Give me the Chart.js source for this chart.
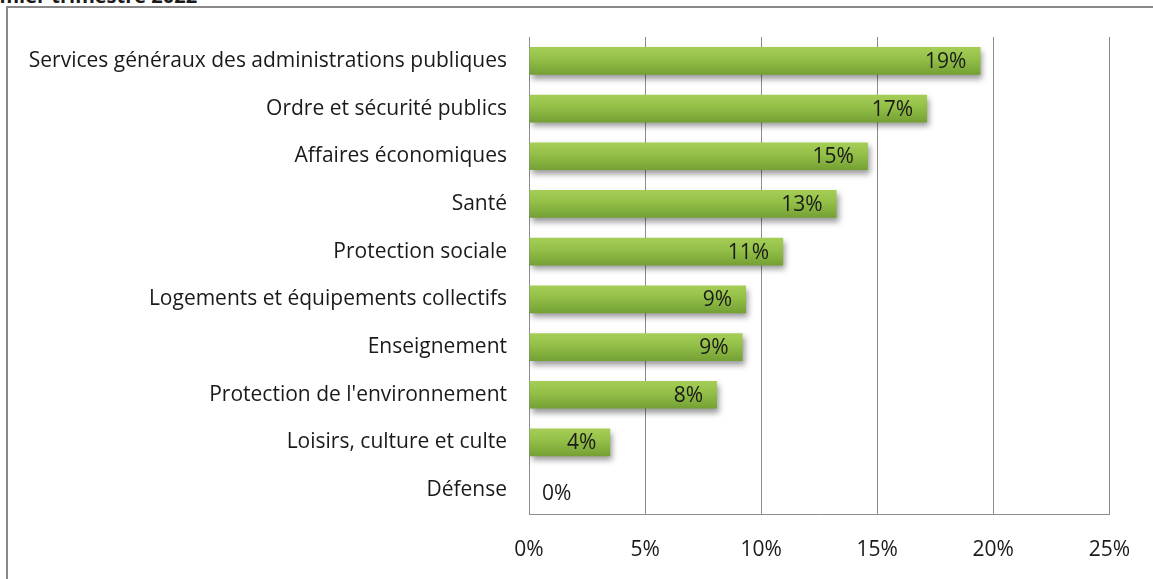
<!DOCTYPE html>
<html>
<head>
<meta charset="utf-8">
<script src="https://cdn.jsdelivr.net/npm/chart.js@4"></script>
<style>
  html, body { margin:0; padding:0; background:#fff; width:1153px; height:579px; overflow:hidden; }
  #title { position:absolute; left:-34px; top:-14px; font:bold 20px 'Open Sans', sans-serif; line-height:19px; color:#1a1a1a; white-space:nowrap; }
  #frame { position:absolute; left:6px; top:6px; width:1300px; height:800px; border:2px solid #8a8a8a; box-sizing:border-box; }
  #wrap { position:absolute; left:0; top:0; width:1153px; height:579px; }
</style>
</head>
<body>
<div id="title">Premier trimestre 2022</div>
<div id="frame"></div>
<div id="wrap"><canvas id="c" width="1153" height="579"></canvas></div>
<script>
const categories = [
  "Services généraux des administrations publiques",
  "Ordre et sécurité publics",
  "Affaires économiques",
  "Santé",
  "Protection sociale",
  "Logements et équipements collectifs",
  "Enseignement",
  "Protection de l'environnement",
  "Loisirs, culture et culte",
  "Défense"
];
const values = [19.45, 17.15, 14.6, 13.25, 10.95, 9.35, 9.2, 8.1, 3.5, 0];
const xTicks = [0, 5, 10, 15, 20, 25];

const FONT = "'Open Sans', Lato, sans-serif";

const barStyle = {
  id: 'barStyle',
  beforeDatasetsDraw(chart) {
    const ctx = chart.ctx;
    const meta = chart.getDatasetMeta(0);
    meta.data.forEach(bar => {
      const top = bar.y - bar.height / 2, bot = bar.y + bar.height / 2;
      if (!Number.isFinite(top) || !Number.isFinite(bot)) return;
      const g = ctx.createLinearGradient(0, top, 0, bot);
      g.addColorStop(0, '#a6ce57');
      g.addColorStop(0.45, '#92bf47');
      g.addColorStop(1, '#74a034');
      bar.options = Object.assign({}, bar.options, { backgroundColor: g });
    });
    ctx.save();
    ctx.shadowColor = 'rgba(0,0,0,0.4)';
    ctx.shadowBlur = 6;
    ctx.shadowOffsetX = 2;
    ctx.shadowOffsetY = 4;
  },
  afterDatasetsDraw(chart) {
    const ctx = chart.ctx;
    ctx.restore();
    const meta = chart.getDatasetMeta(0);
    const x0 = chart.scales.x.getPixelForValue(0);
    ctx.save();
    ctx.font = "21px " + FONT;
    ctx.fillStyle = '#1a1a1a';
    ctx.textBaseline = 'middle';
    meta.data.forEach((bar, i) => {
      const v = values[i];
      const txt = Math.round(v) + '%';
      if (bar.x - x0 > 40) {
        ctx.textAlign = 'right';
        ctx.fillText(txt, bar.x - 14, bar.y + 1);
      } else {
        ctx.textAlign = 'left';
        ctx.fillText(txt, x0 + 13, bar.y + 4);
      }
    });
    ctx.restore();
  }
};

new Chart(document.getElementById('c'), {
  type: 'bar',
  data: {
    labels: categories,
    datasets: [{
      data: values,
      backgroundColor: () => '#8cb843',
      borderWidth: 0,
      barPercentage: 0.58,
      categoryPercentage: 1.0
    }]
  },
  options: {
    indexAxis: 'y',
    responsive: false,
    animation: false,
    layout: { padding: { left: 0, top: 37, right: 42, bottom: 0 } },
    plugins: { legend: { display: false }, tooltip: { enabled: false } },
    scales: {
      x: {
        min: 0, max: 25,
        afterBuildTicks(scale) { scale.ticks = xTicks.map(v => ({ value: v })); },
        afterFit(scale) { scale.height = 65; },
        grid: { color: '#8c8c8c', lineWidth: 1, drawTicks: false },
        border: { color: '#8c8c8c', width: 1 },
        ticks: {
          padding: 23,
          color: '#1a1a1a',
          font: { size: 21, family: FONT },
          callback: v => v + '%'
        }
      },
      y: {
        afterFit(scale) { scale.width = 529; },
        grid: { display: false, drawTicks: false },
        border: { color: '#8c8c8c', width: 1 },
        ticks: {
          padding: 22,
          color: '#1a1a1a',
          font: { size: 21, family: FONT }
        }
      }
    }
  },
  plugins: [barStyle]
});
</script>
</body>
</html>
